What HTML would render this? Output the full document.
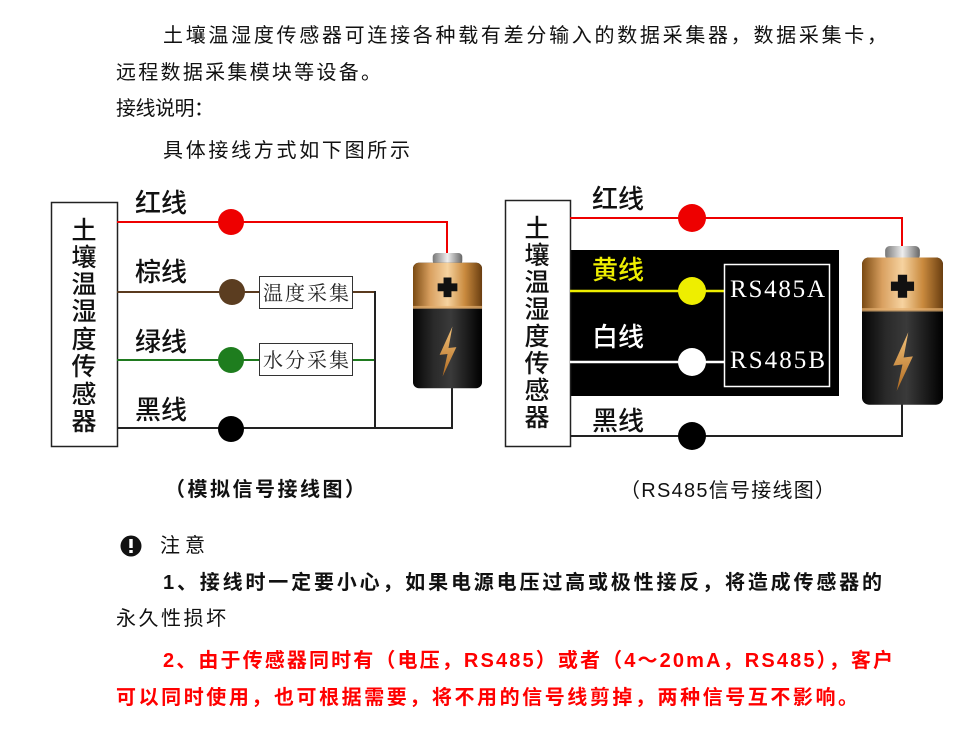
<!DOCTYPE html>
<html><head><meta charset="utf-8"><style>
html,body{margin:0;padding:0;background:#fff;width:968px;height:733px;overflow:hidden}
svg{display:block}
.t{font-family:"Liberation Sans","Noto Sans CJK SC",sans-serif;font-size:20px;fill:#111}
.b{font-weight:bold}
.w{font-family:"Liberation Sans","Noto Sans CJK SC",sans-serif;font-size:26px;font-weight:500;fill:#111}
.v{font-family:"Liberation Sans","Noto Sans CJK SC",sans-serif;font-size:25px;font-weight:500;fill:#111;text-anchor:middle}
.s{font-family:"Liberation Serif","Noto Serif CJK SC",serif;font-size:20px;fill:#222}
</style></head><body>
<svg width="968" height="733" viewBox="0 0 968 733" xmlns="http://www.w3.org/2000/svg">
<defs>
<linearGradient id="gold" x1="0" x2="1" y1="0" y2="0">
<stop offset="0" stop-color="#7a4a12"/><stop offset="0.25" stop-color="#d9a060"/><stop offset="0.5" stop-color="#f6d3a0"/><stop offset="0.75" stop-color="#c98a3e"/><stop offset="1" stop-color="#6a3e10"/></linearGradient>
<linearGradient id="blk" x1="0" x2="1" y1="0" y2="0">
<stop offset="0" stop-color="#050505"/><stop offset="0.3" stop-color="#2a2a2a"/><stop offset="0.55" stop-color="#3a3a3a"/><stop offset="1" stop-color="#000"/></linearGradient>
<linearGradient id="cap" x1="0" x2="1" y1="0" y2="0">
<stop offset="0" stop-color="#777"/><stop offset="0.5" stop-color="#eee"/><stop offset="1" stop-color="#666"/></linearGradient>
<linearGradient id="bolt" x1="0" x2="0" y1="0" y2="1">
<stop offset="0" stop-color="#f3c27a"/><stop offset="1" stop-color="#b06a20"/></linearGradient>
<g id="bat">
<rect x="20" y="0" width="30" height="12" rx="4" fill="url(#cap)"/>
<rect x="0" y="10" width="70" height="128" rx="6" fill="url(#blk)"/>
<path d="M6 10 h58 a6 6 0 0 1 6 6 v40 h-70 v-40 a6 6 0 0 1 6 -6z" fill="url(#gold)"/>
<rect x="0" y="54" width="70" height="3" fill="#e6b070" opacity="0.7"/>
<path d="M31 25 h8 v6 h6 v8 h-6 v6 h-8 v-6 h-6 v-8 h6z" fill="#111"/>
<path d="M40 75 L27 104 L35 103 L30 126 L44 96 L36 97 Z" fill="url(#bolt)"/>
</g>
</defs>

<text class="t" x="163" y="42" textLength="724" lengthAdjust="spacing">土壤温湿度传感器可连接各种载有差分输入的数据采集器，数据采集卡，</text>
<text class="t" x="116" y="79" textLength="265" lengthAdjust="spacing">远程数据采集模块等设备。</text>
<text class="t" x="116" y="115" textLength="98" lengthAdjust="spacing">接线说明：</text>
<text class="t" x="163" y="157" textLength="247" lengthAdjust="spacing">具体接线方式如下图所示</text>

<rect x="51.5" y="202.5" width="66" height="244" fill="#fff" stroke="#222" stroke-width="1.5"/>
<g class="v">
<text x="84" y="239">土</text><text x="84" y="266">壤</text><text x="84" y="293">温</text><text x="84" y="320">湿</text>
<text x="84" y="348">度</text><text x="84" y="375">传</text><text x="84" y="403">感</text><text x="84" y="430">器</text>
</g>
<polyline points="117,222 447,222 447,258" fill="none" stroke="#e00" stroke-width="2"/>
<line x1="117" y1="292" x2="375" y2="292" stroke="#5a3a1e" stroke-width="2"/>
<line x1="117" y1="360" x2="375" y2="360" stroke="#1f7a1f" stroke-width="2"/>
<polyline points="117,428 452,428 452,385" fill="none" stroke="#222" stroke-width="2"/>
<line x1="375" y1="291" x2="375" y2="429" stroke="#222" stroke-width="2"/>
<circle cx="231" cy="222" r="13" fill="#e00"/>
<circle cx="232" cy="292" r="13" fill="#5b3d20"/>
<circle cx="231" cy="360" r="13" fill="#1e7d1e"/>
<circle cx="231" cy="429" r="13" fill="#000"/>
<rect x="259.5" y="276.5" width="93" height="32" fill="#fff" stroke="#333" stroke-width="1"/>
<rect x="259.5" y="343.5" width="93" height="32" fill="#fff" stroke="#333" stroke-width="1"/>
<text class="s" x="263" y="300" textLength="86" lengthAdjust="spacing">温度采集</text>
<text class="s" x="263" y="367" textLength="86" lengthAdjust="spacing">水分采集</text>
<text class="w" x="135" y="212">红线</text>
<text class="w" x="135" y="281">棕线</text>
<text class="w" x="135" y="351">绿线</text>
<text class="w" x="135" y="419">黑线</text>
<use href="#bat" transform="translate(413,253) scale(0.986,0.98)"/>
<text class="t b" x="165" y="496" font-size="19" textLength="200" lengthAdjust="spacing">（模拟信号接线图）</text>

<rect x="570" y="250" width="269" height="146" fill="#000"/>
<rect x="505.5" y="200.5" width="65" height="246" fill="#fff" stroke="#222" stroke-width="1.5"/>
<g class="v">
<text x="537" y="237">土</text><text x="537" y="264">壤</text><text x="537" y="291">温</text><text x="537" y="318">湿</text>
<text x="537" y="345">度</text><text x="537" y="372">传</text><text x="537" y="399">感</text><text x="537" y="426">器</text>
</g>
<polyline points="570,218 902,218 902,248" fill="none" stroke="#e00" stroke-width="2"/>
<line x1="570" y1="291" x2="725" y2="291" stroke="#ee0" stroke-width="2.5"/>
<line x1="570" y1="362" x2="725" y2="362" stroke="#fff" stroke-width="2.5"/>
<polyline points="570,436 902,436 902,402" fill="none" stroke="#222" stroke-width="2"/>
<circle cx="692" cy="218" r="14" fill="#e00"/>
<circle cx="692" cy="291" r="14" fill="#ee0"/>
<circle cx="692" cy="362" r="14" fill="#fff"/>
<circle cx="692" cy="436" r="14" fill="#000"/>
<rect x="724.5" y="264.5" width="105" height="122" fill="none" stroke="#fff" stroke-width="1.5"/>
<text x="730" y="297" font-family="Liberation Serif,serif" font-size="25" fill="#fff" textLength="95">RS485A</text>
<text x="730" y="368" font-family="Liberation Serif,serif" font-size="25" fill="#fff" textLength="95">RS485B</text>
<text class="w" x="592" y="208">红线</text>
<text class="w" x="592" y="279" style="fill:#ee0">黄线</text>
<text class="w" x="592" y="346" style="fill:#fff">白线</text>
<text class="w" x="592" y="430">黑线</text>
<use href="#bat" transform="translate(862,246) scale(1.157,1.15)"/>
<text class="t" x="620" y="497" font-size="19" textLength="215" lengthAdjust="spacing">（RS485信号接线图）</text>

<circle cx="131" cy="546" r="10.5" fill="#111"/>
<rect x="129.3" y="539" width="3.4" height="9" fill="#fff"/>
<rect x="129.3" y="550" width="3.4" height="3" fill="#fff"/>
<text class="t" x="160" y="552" textLength="45" lengthAdjust="spacing">注意</text>
<text class="t b" x="163" y="589" textLength="719" lengthAdjust="spacing">1、接线时一定要小心，如果电源电压过高或极性接反，将造成传感器的</text>
<text class="t" x="116" y="625" textLength="110" lengthAdjust="spacing">永久性损坏</text>
<text class="t b" x="163" y="667" textLength="730" lengthAdjust="spacing" style="fill:#f00">2、由于传感器同时有（电压，RS485）或者（4～20mA，RS485），客户</text>
<text class="t b" x="116" y="704" textLength="742" lengthAdjust="spacing" style="fill:#f00">可以同时使用，也可根据需要，将不用的信号线剪掉，两种信号互不影响。</text>
</svg>
</body></html>
